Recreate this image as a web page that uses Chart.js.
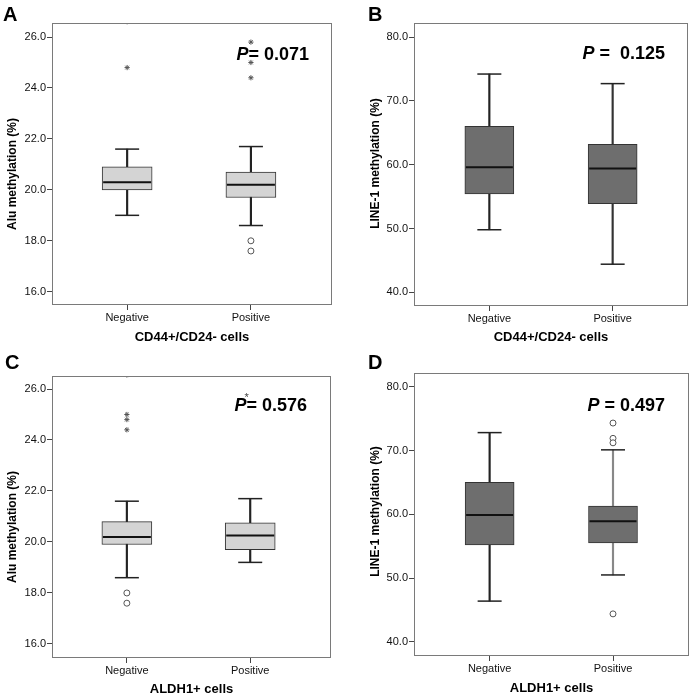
<!DOCTYPE html>
<html>
<head>
<meta charset="utf-8">
<script src="https://cdn.jsdelivr.net/npm/chart.js@4.4.1/dist/chart.umd.min.js"></script>
<style>
body { margin: 0; background: #fff; }
#wrap { position: relative; width: 693px; height: 698px; }
canvas { position: absolute; }
</style>
</head>
<body>
<div id="wrap">
  <canvas id="chartA" width="346" height="349" style="left:0;top:0"></canvas>
  <canvas id="chartB" width="347" height="349" style="left:346px;top:0"></canvas>
  <canvas id="chartC" width="346" height="349" style="left:0;top:349px"></canvas>
  <canvas id="chartD" width="347" height="349" style="left:346px;top:349px"></canvas>
</div>
<script>
const groups = ['Negative', 'Positive'];

// [lower whisker, Q1, median, Q3, upper whisker]
const aluCd44Stats = [[19.0, 20.0, 20.3, 20.9, 21.6], [18.6, 19.7, 20.2, 20.7, 21.7]];
const aluCd44Circles = [[], [18.0, 17.6]];
const aluCd44Stars = [[24.8, 26.6], [25.8, 25.0, 24.4]];

const line1Cd44Stats = [[49.8, 55.4, 59.6, 66.0, 74.2], [44.4, 53.9, 59.4, 63.2, 72.7]];
const line1Cd44Circles = [[], []];
const line1Cd44Stars = [[], []];

const aluAldhStats = [[18.6, 19.9, 20.2, 20.8, 21.6], [19.2, 19.7, 20.25, 20.75, 21.7]];
const aluAldhCircles = [[18.0, 17.6], []];
const aluAldhStars = [[25.0, 24.8, 24.4, 26.55], []];

const line1AldhStats = [[46.4, 55.2, 59.9, 65.0, 72.8], [50.5, 55.5, 58.9, 61.3, 70.1]];
const line1AldhCircles = [[], [74.3, 71.9, 71.2, 44.4]];
const line1AldhStars = [[], []];

const aluTicks = [16, 18, 20, 22, 24, 26];
const line1Ticks = [40, 50, 60, 70, 80];

const FONT = '"Liberation Sans", Arial, sans-serif';

const panelDecor = {
    id: 'panelDecor',
    afterDraw(chart, args, opts) {
        const { ctx, chartArea: a } = chart;
        ctx.save();
        // frame
        ctx.strokeStyle = '#7a7a7a';
        ctx.lineWidth = 1;
        ctx.strokeRect(Math.round(a.left) + 0.5, Math.round(a.top) + 0.5,
            Math.round(a.right - a.left) - 1, Math.round(a.bottom - a.top) - 1);
        ctx.fillStyle = '#000';
        // y axis title
        ctx.save();
        ctx.translate(opts.ytx, (a.top + a.bottom) / 2 + opts.yty);
        ctx.rotate(-Math.PI / 2);
        ctx.font = 'bold 12px ' + FONT;
        ctx.textAlign = 'center';
        ctx.textBaseline = 'middle';
        ctx.fillText(opts.yTitle, 0, 0);
        ctx.restore();
        // panel letter
        ctx.textBaseline = 'alphabetic';
        ctx.font = 'bold 20px ' + FONT;
        ctx.fillText(opts.letter, opts.lx, opts.ly);
        // p value
        ctx.font = 'bold 18px ' + FONT;
        const restW = ctx.measureText(opts.rest).width;
        ctx.font = 'italic bold 18px ' + FONT;
        const pW = ctx.measureText('P').width;
        const x0 = a.right - opts.pr - restW - pW;
        const base = a.top + opts.pt;
        ctx.fillText('P', x0, base);
        if (opts.star) {
            ctx.font = '11px ' + FONT;
            ctx.fillStyle = '#444';
            ctx.fillText('*', x0 + pW - 2, base - 10);
            ctx.fillStyle = '#000';
        }
        ctx.font = 'bold 18px ' + FONT;
        ctx.fillText(opts.rest, x0 + pW, base);
        ctx.restore();
    }
};

function outlierPoints(list) {
    const pts = [];
    list.forEach((vals, i) => vals.forEach(v => pts.push({ x: i + 1, y: v })));
    return pts;
}

function makeBoxChart(id, p) {
    const stats = p.stats;
    const datasets = [
        {
            type: 'bar',
            data: stats.map((s, i) => ({ x: i + 1, y: [s[0], s[4]] })),
            backgroundColor: p.whiskerColors,
            barThickness: 1.5,
            grouped: false,
            order: 3
        },
        {
            type: 'bar',
            data: stats.map((s, i) => ({ x: i + 1, y: [s[1], s[3]] })),
            backgroundColor: p.fill,
            borderColor: '#333',
            borderWidth: 1,
            borderSkipped: false,
            barThickness: p.boxWidth,
            grouped: false,
            order: 2
        },
        {
            type: 'scatter',
            data: stats.flatMap((s, i) => [{ x: i + 1, y: s[0] }, { x: i + 1, y: s[4] }]),
            pointStyle: 'line',
            pointRadius: 12,
            borderColor: '#222',
            borderWidth: 1.5,
            order: 1
        },
        {
            type: 'scatter',
            data: stats.map((s, i) => ({ x: i + 1, y: s[2] })),
            pointStyle: 'line',
            pointRadius: p.boxWidth / 2 - 1,
            borderColor: '#111',
            borderWidth: 2,
            order: 0
        },
        {
            type: 'scatter',
            data: outlierPoints(p.circles),
            pointStyle: 'circle',
            pointRadius: 3,
            backgroundColor: '#fff',
            borderColor: '#555',
            borderWidth: 1,
            order: 0
        },
        {
            type: 'scatter',
            data: outlierPoints(p.stars),
            pointStyle: 'star',
            pointRadius: 2.6,
            borderColor: '#555',
            borderWidth: 1,
            clip: 0,
            order: 0
        }
    ];

    return new Chart(document.getElementById(id), {
        type: 'bar',
        data: { datasets },
        options: {
            responsive: false,
            animation: false,
            events: [],
            layout: {
                autoPadding: false,
                padding: { top: p.padTop, right: p.padRight, left: 0, bottom: 0 }
            },
            plugins: {
                legend: { display: false },
                tooltip: { enabled: false },
                panelDecor: p.decor
            },
            scales: {
                x: {
                    type: 'linear',
                    offset: false,
                    min: p.xMin,
                    max: p.xMax,
                    afterBuildTicks: s => { s.ticks = groups.map((g, i) => ({ value: i + 1 })); },
                    afterFit: s => {
                        s.height = p.xHeight;
                        s.paddingLeft = 0;
                        s.paddingRight = 0;
                    },
                    ticks: {
                        autoSkip: false,
                        maxRotation: 0,
                        padding: 1,
                        color: '#111',
                        font: { family: FONT, size: 11 },
                        callback: v => groups[v - 1]
                    },
                    grid: { offset: false, drawOnChartArea: false, drawTicks: true, tickLength: 5, color: '#444' },
                    border: { display: false },
                    title: {
                        display: true,
                        text: p.xTitle,
                        color: '#000',
                        font: { family: FONT, size: 13, weight: 'bold' },
                        padding: { top: 0, bottom: p.xTitlePad }
                    }
                },
                y: {
                    type: 'linear',
                    min: p.yMin,
                    max: p.yMax,
                    afterBuildTicks: s => { s.ticks = p.ticks.map(v => ({ value: v })); },
                    afterFit: s => {
                        s.width = p.yWidth;
                        s.paddingTop = 0;
                        s.paddingBottom = 0;
                    },
                    ticks: {
                        padding: 1,
                        color: '#111',
                        font: { family: FONT, size: 11 },
                        callback: v => v.toFixed(1)
                    },
                    grid: { drawOnChartArea: false, drawTicks: true, tickLength: 5, color: '#444' },
                    border: { display: false },
                    title: { display: false }
                }
            }
        },
        plugins: [panelDecor]
    });
}

makeBoxChart('chartA', {
    stats: aluCd44Stats, circles: aluCd44Circles, stars: aluCd44Stars,
    fill: '#d4d4d4', whiskerColors: ['#222', '#222'], boxWidth: 50,
    xMin: 0.393, xMax: 2.655, yMin: 15.48, yMax: 26.55, ticks: aluTicks,
    padTop: 23, padRight: 14, yWidth: 52, xHeight: 44, xTitlePad: 4,
    xTitle: 'CD44+/CD24- cells',
    decor: { yTitle: 'Alu methylation (%)', ytx: 13, yty: 10,
        letter: 'A', lx: 3, ly: 21, rest: '= 0.071', pr: 23, pt: 37, star: false }
});

makeBoxChart('chartB', {
    stats: line1Cd44Stats, circles: line1Cd44Circles, stars: line1Cd44Stars,
    fill: '#6e6e6e', whiskerColors: ['#222', '#333'], boxWidth: 49,
    xMin: 0.389, xMax: 2.611, yMin: 37.85, yMax: 82.2, ticks: line1Ticks,
    padTop: 23, padRight: 5, yWidth: 68, xHeight: 43, xTitlePad: 4,
    xTitle: 'CD44+/CD24- cells',
    decor: { yTitle: 'LINE-1 methylation (%)', ytx: 29.5, yty: -1,
        letter: 'B', lx: 22, ly: 21, rest: ' =  0.125', pr: 23, pt: 36, star: false }
});

makeBoxChart('chartC', {
    stats: aluAldhStats, circles: aluAldhCircles, stars: aluAldhStars,
    fill: '#d4d4d4', whiskerColors: ['#222', '#222'], boxWidth: 50,
    xMin: 0.393, xMax: 2.655, yMin: 15.45, yMax: 26.51, ticks: aluTicks,
    padTop: 27, padRight: 15, yWidth: 52, xHeight: 40, xTitlePad: 1,
    xTitle: 'ALDH1+ cells',
    decor: { yTitle: 'Alu methylation (%)', ytx: 13, yty: 10,
        letter: 'C', lx: 5, ly: 20, rest: '= 0.576', pr: 24, pt: 35, star: true }
});

makeBoxChart('chartD', {
    stats: line1AldhStats, circles: line1AldhCircles, stars: line1AldhStars,
    fill: '#6e6e6e', whiskerColors: ['#222', '#888'], boxWidth: 49,
    xMin: 0.387, xMax: 2.616, yMin: 37.8, yMax: 82.14, ticks: line1Ticks,
    padTop: 24, padRight: 4, yWidth: 68, xHeight: 42, xTitlePad: 2,
    xTitle: 'ALDH1+ cells',
    decor: { yTitle: 'LINE-1 methylation (%)', ytx: 29.5, yty: -3,
        letter: 'D', lx: 22, ly: 20, rest: ' = 0.497', pr: 24, pt: 38, star: false }
});
</script>
</body>
</html>
